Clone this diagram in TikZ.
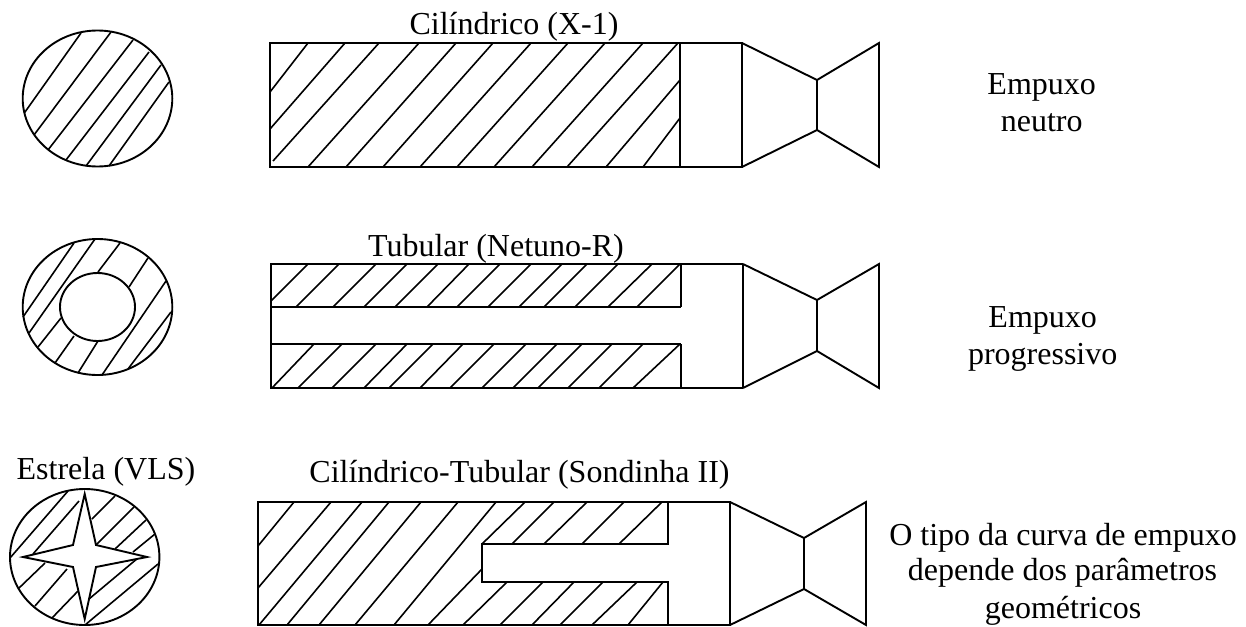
\documentclass[tikz,border=0pt]{standalone}
\usepackage{fontspec}
\setmainfont{Liberation Serif}
\tikzset{
  outline/.style={line width=1.9pt,line join=miter,black},
  hatch/.style={line width=1.6pt,black},
  label/.style={inner sep=0pt,anchor=base,align=center,font=\fontsize{32}{35}\selectfont,text=black}
}
\begin{document}
\begin{tikzpicture}[x=1pt,y=-1pt]
\useasboundingbox (0,0) rectangle (1246,626);
% ---------- Row 1
\draw[hatch] (81,33)--(24.3,113) (111,32)--(34,135) (133,40)--(48,150) (149,52)--(66,160) (161,65)--(86,166) (169,82)--(109,166);
\draw[outline] (97.5,98.5) ellipse [x radius=74.8,y radius=68];
\draw[hatch] (308,43)--(270,92) (345,43)--(270,129) (379,43)--(273,161)
  (419,43)--(308,167) (456,43)--(346,167) (493,43)--(383,167) (531,43)--(420,167)
  (568,43)--(457,167) (605,43)--(494,167) (643,43)--(532,167) (678,43)--(567,167)
  (680,80)--(606,167) (680,118)--(643,167);
\draw[outline] (270,43) rectangle (742,167);
\draw[outline] (680,43)--(680,167);
\draw[outline] (742,43)--(817,80)--(879,43)--(879,167)--(817,130)--(742,167);
\draw[outline] (817,80)--(817,130);
\node[label] (t1) at (514,35) {Cilíndrico (X-1)};
\node[label] (e1) at (1041.7,94) {Empuxo};
\node[label] (e1b) at (1041.7,131.5) {neutro};
% ---------- Row 2
\draw[hatch] (74,243)--(23,317) (95,239)--(29,333) (120,243)--(98,272) (148,258)--(129,287)
  (166,281)--(102,375) (171,312)--(128,369) (61,318)--(38,347) (74,336)--(55,363) (98,341)--(78,373);
\draw[outline] (97.5,307) ellipse [x radius=74.8,y radius=68];
\draw[outline] (97.5,307) ellipse [x radius=37.5,y radius=34];
\draw[hatch] (308,264)--(271,301) (339,264)--(296,307) (376,264)--(333,307) (407,264)--(364,307)
  (438,264)--(395,307) (469,264)--(427,307) (500,264)--(457,307) (531,264)--(488,307)
  (562,264)--(519,307) (587,264)--(544,307) (618,264)--(575,307) (652,264)--(608,307) (680,264)--(637,307);
\draw[hatch] (314,344)--(272,388) (342,344)--(298,388) (376,344)--(332,388) (407,344)--(364,388)
  (433,344)--(389,388) (463,344)--(420,388) (494,344)--(450,388) (526,344)--(482,388)
  (557,344)--(513,388) (582,344)--(538,388) (612,344)--(568,388) (643,344)--(599,388) (680,344)--(633,388);
\draw[outline] (743,264)--(271,264)--(271,388)--(743,388);
\draw[outline] (271,307)--(681,307) (271,344)--(681,344);
\draw[outline] (681,264)--(681,307) (681,344)--(681,388);
\draw[outline] (743,264)--(743,388);
\draw[outline] (743,264)--(817,300)--(879,264)--(879,388)--(817,351)--(743,388);
\draw[outline] (817,300)--(817,351);
\node[label] (t2) at (496,256) {Tubular (Netuno-R)};
\node[label] (e2) at (1042.7,327.7) {Empuxo};
\node[label] (e2b) at (1042.7,364.3) {progressivo};
% ---------- Row 3
\draw[hatch] (68,491)--(10,558) (79,501)--(33,554) (115,496)--(92,519) (134,507)--(96,545)
  (146,520)--(115,549) (155,534)--(133,552) (45,563)--(18,589) (67,569)--(35,606) (78,591)--(52,618)
  (158,564)--(85,625) (138,558)--(89,599);
\draw[outline] (84.7,557) ellipse [x radius=74.7,y radius=68];
\draw[outline,fill=white] (84.7,494)--(96,545)--(147,557)--(96,567)--(84.7,619)--(73,567)--(23,557)--(73,545)--cycle;
\draw[hatch] (294,502)--(258,546) (331,502)--(258,588) (362,502)--(259,625) (389,502)--(287,625)
  (421,502)--(319,625) (458,502)--(355,625) (496,502)--(394,625)
  (525,502)--(482,544) (554,502)--(512,544) (587,502)--(544,544) (624,502)--(582,544) (662,502)--(619,544)
  (482,569)--(428,625) (507,582)--(463,625) (543,582)--(500,625) (574,582)--(532,625)
  (603,582)--(560,625) (637,582)--(592,625) (663,582)--(628,625);
\draw[outline] (258,502) rectangle (730,625);
\draw[outline] (668,502)--(668,544)--(482,544)--(482,582)--(668,582)--(668,625);
\draw[outline] (730,502)--(804,538)--(866,502)--(866,625)--(804,589)--(730,625);
\draw[outline] (804,538)--(804,589);
\node[label] (t3) at (106,479) {Estrela (VLS)};
\node[label] (t4) at (519.5,482) {Cilíndrico-Tubular (Sondinha II)};
\node[label] (e3) at (1063,545) {O tipo da curva de empuxo};
\node[label] (e3b) at (1062.5,580) {depende dos parâmetros};
\node[label] (e3c) at (1063,618) {geométricos};
\end{tikzpicture}
\end{document}
